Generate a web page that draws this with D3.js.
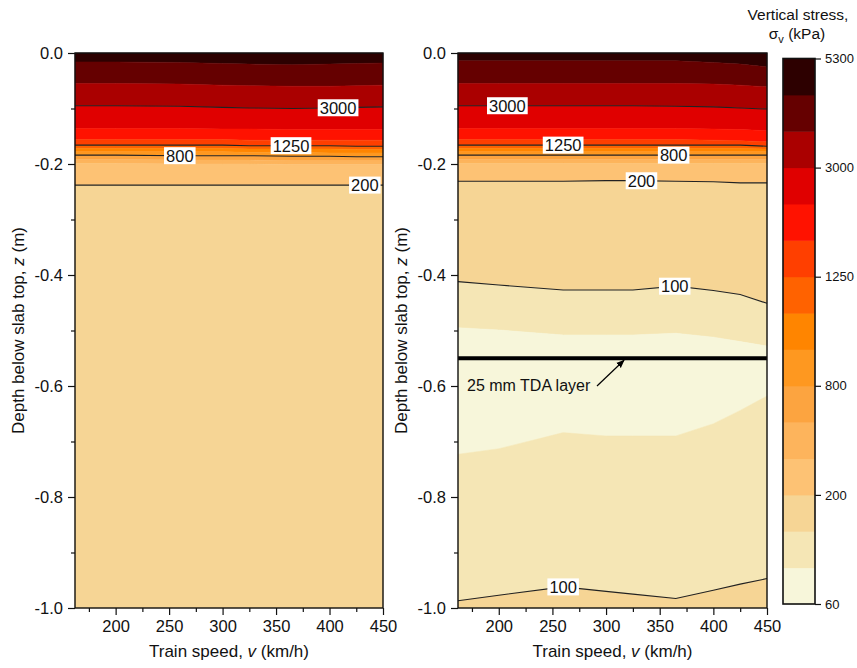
<!DOCTYPE html>
<html>
<head>
<meta charset="utf-8">
<script src="https://cdn.jsdelivr.net/npm/d3@7"></script>
<style>
  body { margin: 0; background: #fff; }
  svg text { font-family: "Liberation Sans", Arial, sans-serif; fill: #111; }
</style>
</head>
<body>
<script>
// ---- data ----
// train speeds (km/h) where the isoline depths were sampled
const speeds = [162, 200, 260, 300, 325, 365, 400, 425, 450];

// stress levels of the colour bands (kPa), low to high
const levels = [60, 80, 100, 200, 400, 600, 800, 950, 1100, 1250, 1800, 2400, 3000, 3800, 4500, 5300];
const bandColors = ["#f7f6da", "#f5e6b5", "#f6d595", "#fdc274", "#fdb45c", "#fca440", "#fe9820",
                    "#ff8500", "#ff6200", "#ff3f00", "#ff1200", "#e00000", "#aa0000", "#650000", "#2d0000"];
const barTicks = [60, 200, 800, 1250, 3000, 5300];
const drawnLevels = [3000, 1250, 800, 200, 100];

// left panel: isolines top to bottom (level, depth z in m at each speed)
const leftLevels = [4500, 3800, 3000, 2400, 1800, 1250, 1100, 950, 800, 600, 400, 200];
const leftDepths = [
  [-0.016, -0.016, -0.017, -0.019, -0.020, -0.021, -0.020, -0.019, -0.018],
  [-0.055, -0.055, -0.056, -0.058, -0.059, -0.060, -0.060, -0.059, -0.058],
  [-0.095, -0.095, -0.096, -0.098, -0.099, -0.100, -0.099, -0.098, -0.097],
  [-0.136, -0.136, -0.136, -0.137, -0.137, -0.138, -0.138, -0.138, -0.138],
  [-0.156, -0.156, -0.156, -0.156, -0.157, -0.157, -0.157, -0.157, -0.157],
  [-0.166, -0.166, -0.166, -0.166, -0.167, -0.167, -0.167, -0.168, -0.168],
  [-0.172, -0.172, -0.172, -0.172, -0.173, -0.173, -0.173, -0.174, -0.174],
  [-0.178, -0.178, -0.178, -0.178, -0.179, -0.179, -0.180, -0.180, -0.180],
  [-0.184, -0.184, -0.185, -0.185, -0.185, -0.186, -0.186, -0.187, -0.187],
  [-0.192, -0.192, -0.193, -0.193, -0.193, -0.194, -0.194, -0.194, -0.194],
  [-0.199, -0.199, -0.200, -0.200, -0.200, -0.201, -0.201, -0.201, -0.201],
  [-0.238, -0.238, -0.238, -0.238, -0.238, -0.238, -0.238, -0.238, -0.238]
];

// right panel (with TDA layer)
const rightLevels = [4500, 3800, 3000, 2400, 1800, 1250, 1100, 950, 800, 600, 400, 200, 100, 80, 80, 100];
const rightDepths = [
  [-0.014, -0.014, -0.014, -0.014, -0.014, -0.014, -0.017, -0.020, -0.025],
  [-0.055, -0.055, -0.055, -0.055, -0.055, -0.055, -0.056, -0.058, -0.061],
  [-0.095, -0.095, -0.095, -0.095, -0.095, -0.096, -0.097, -0.099, -0.101],
  [-0.136, -0.136, -0.136, -0.136, -0.136, -0.136, -0.137, -0.138, -0.140],
  [-0.156, -0.156, -0.156, -0.156, -0.156, -0.156, -0.157, -0.158, -0.160],
  [-0.166, -0.166, -0.166, -0.166, -0.166, -0.166, -0.166, -0.166, -0.168],
  [-0.172, -0.172, -0.172, -0.172, -0.172, -0.172, -0.172, -0.172, -0.173],
  [-0.178, -0.178, -0.178, -0.178, -0.178, -0.178, -0.178, -0.178, -0.178],
  [-0.184, -0.184, -0.184, -0.184, -0.184, -0.184, -0.184, -0.184, -0.184],
  [-0.192, -0.192, -0.192, -0.192, -0.192, -0.192, -0.192, -0.192, -0.192],
  [-0.199, -0.199, -0.199, -0.199, -0.199, -0.199, -0.199, -0.199, -0.199],
  [-0.231, -0.231, -0.231, -0.230, -0.230, -0.231, -0.232, -0.234, -0.234],
  [-0.412, -0.418, -0.427, -0.427, -0.427, -0.420, -0.428, -0.435, -0.451],
  [-0.495, -0.499, -0.508, -0.508, -0.508, -0.505, -0.512, -0.520, -0.528],
  [-0.723, -0.713, -0.684, -0.690, -0.690, -0.690, -0.668, -0.644, -0.618],
  [-0.987, -0.977, -0.962, -0.970, -0.975, -0.983, -0.968, -0.957, -0.947]
];
const tdaDepth = -0.55;

// contour labels: [isoline index, speed]
const leftLabels = [[2, 408], [5, 364], [8, 260], [11, 433]];
const rightLabels = [[2, 208], [5, 260], [8, 363], [11, 333], [12, 364], [15, 260]];

const xTicks = [200, 250, 300, 350, 400, 450];
const xMinor = [175, 225, 275, 325, 375, 425];
const yTicks = [0, -0.2, -0.4, -0.6, -0.8, -1.0];
const yMinor = [-0.1, -0.3, -0.5, -0.7, -0.9];

// ---- layout ----
const W = 857, H = 668;
const plotTop = 53, plotBottom = 608;
const svg = d3.select("body").append("svg").attr("width", W).attr("height", H);

const y = d3.scaleLinear().domain([0, -1]).range([plotTop, plotBottom]);
const color = d3.scaleThreshold().domain(levels.slice(1, -1)).range(bandColors);

function bandValue(lv, i) {
  // representative stress for the band lying just below isoline i-1 and above isoline i
  const n = lv.length;
  if (i == 0) return lv[0] > lv[1] ? lv[0] + 1 : lv[0] - 1;
  if (i == n) return lv[n - 1] < lv[n - 2] ? lv[n - 1] - 1 : lv[n - 1] + 1;
  const a = lv[i - 1], b = lv[i];
  if (a != b) return (a + b) / 2;
  const prev = i > 1 ? lv[i - 2] : a + 1;
  return prev > a ? a - 1 : a + 1;
}

function drawPanel(left, right, lv, depths, labels, withTda) {
  const x = d3.scaleLinear().domain([162, 450]).range([left, right]);
  const g = svg.append("g");
  const idx = d3.range(speeds.length);

  // filled bands
  for (let i = 0; i <= lv.length; i++) {
    const up = i == 0 ? null : depths[i - 1];
    const lo = i == lv.length ? null : depths[i];
    const area = d3.area()
      .x(j => x(speeds[j]))
      .y0(j => up ? y(up[j]) : y(0))
      .y1(j => lo ? y(lo[j]) : y(-1));
    g.append("path").attr("d", area(idx))
      .attr("fill", color(bandValue(lv, i)))
      .attr("stroke", color(bandValue(lv, i))).attr("stroke-width", 0.5);
  }

  // contour lines
  const line = d3.line().x(j => x(speeds[j]));
  lv.forEach((l, k) => {
    if (drawnLevels.indexOf(l) < 0) return;
    g.append("path").attr("d", line.y(j => y(depths[k][j]))(idx))
      .attr("fill", "none").attr("stroke", "#222").attr("stroke-width", 1.1);
  });

  if (withTda) {
    g.append("line").attr("x1", x(162)).attr("x2", x(450))
      .attr("y1", y(tdaDepth)).attr("y2", y(tdaDepth))
      .attr("stroke", "#000").attr("stroke-width", 4);
    svg.append("defs").append("marker").attr("id", "arrow")
      .attr("viewBox", "0 0 10 10").attr("refX", 9).attr("refY", 5)
      .attr("markerWidth", 7).attr("markerHeight", 7).attr("orient", "auto")
      .append("path").attr("d", "M0,1 L10,5 L0,9 z").attr("fill", "#000");
    g.append("line").attr("x1", 597).attr("y1", 386).attr("x2", 624).attr("y2", y(tdaDepth) + 2)
      .attr("stroke", "#000").attr("stroke-width", 1.2).attr("marker-end", "url(#arrow)");
    g.append("text").attr("x", 467).attr("y", 391).attr("font-size", 16)
      .text("25 mm TDA layer");
  }

  // contour labels
  labels.forEach(([k, v]) => {
    const zAt = d3.scaleLinear().domain(speeds).range(depths[k]);
    const cx = x(v), cyy = y(zAt(v));
    const t = g.append("text").attr("x", cx).attr("y", cyy).attr("dy", "0.36em")
      .attr("text-anchor", "middle").attr("font-size", 16.5).text(lv[k]);
    const bb = t.node().getBBox();
    g.insert("rect", function () { return t.node(); })
      .attr("x", bb.x - 2).attr("y", cyy - 8.5).attr("width", bb.width + 4).attr("height", 17)
      .attr("fill", "#fff");
  });

  // frame
  g.append("rect").attr("x", left).attr("y", plotTop).attr("width", right - left).attr("height", plotBottom - plotTop)
    .attr("fill", "none").attr("stroke", "#111").attr("stroke-width", 1.4);

  // axes
  const xa = svg.append("g").attr("transform", `translate(0,${plotBottom})`)
    .call(d3.axisBottom(x).tickValues(xTicks).tickSize(7).tickPadding(5));
  svg.append("g").attr("transform", `translate(0,${plotBottom})`)
    .call(d3.axisBottom(x).tickValues(xMinor).tickSize(4).tickFormat(""));
  const ya = svg.append("g").attr("transform", `translate(${left},0)`)
    .call(d3.axisLeft(y).tickValues(yTicks).tickSize(7).tickPadding(5).tickFormat(d => d.toFixed(1)));
  svg.append("g").attr("transform", `translate(${left},0)`)
    .call(d3.axisLeft(y).tickValues(yMinor).tickSize(4).tickFormat(""));
  svg.selectAll(".domain").remove();
  svg.selectAll(".tick line").attr("stroke", "#111").attr("stroke-width", 1.2);
  xa.selectAll("text").attr("font-size", 16.5).attr("fill", "#111");
  ya.selectAll("text").attr("font-size", 16.5).attr("fill", "#111");

  // axis titles
  const xt = svg.append("text").attr("x", (left + right) / 2).attr("y", 657)
    .attr("text-anchor", "middle").attr("font-size", 17);
  xt.append("tspan").text("Train speed, ");
  xt.append("tspan").attr("font-style", "italic").text("v");
  xt.append("tspan").text(" (km/h)");

  const yt = svg.append("text")
    .attr("transform", `translate(${left - 57},${(plotTop + plotBottom) / 2}) rotate(-90)`)
    .attr("text-anchor", "middle").attr("dy", "0.35em").attr("font-size", 17);
  yt.append("tspan").text("Depth below slab top, ");
  yt.append("tspan").attr("font-style", "italic").text("z");
  yt.append("tspan").text(" (m)");
}

drawPanel(75, 383, leftLevels, leftDepths, leftLabels, false);
drawPanel(458, 767, rightLevels, rightDepths, rightLabels, true);

// ---- colour bar ----
const cb = { x: 783, w: 32, top: 58.5, bottom: 604 };
const cScale = d3.scalePoint().domain(levels).range([cb.bottom, cb.top]);
const cbar = svg.append("g");
levels.slice(0, -1).forEach((l, i) => {
  cbar.append("rect").attr("x", cb.x).attr("y", cScale(levels[i + 1]))
    .attr("width", cb.w).attr("height", cScale(l) - cScale(levels[i + 1]) + 0.5)
    .attr("fill", bandColors[i]);
});
cbar.append("rect").attr("x", cb.x).attr("y", cb.top).attr("width", cb.w).attr("height", cb.bottom - cb.top)
  .attr("fill", "none").attr("stroke", "#111").attr("stroke-width", 1.6);
const ca = svg.append("g").attr("transform", `translate(${cb.x + cb.w},0)`)
  .call(d3.axisRight(cScale).tickValues(barTicks).tickSize(6).tickPadding(4));
ca.select(".domain").remove();
ca.selectAll(".tick line").attr("stroke", "#111").attr("stroke-width", 1.2);
ca.selectAll("text").attr("font-size", 13).attr("fill", "#111");

svg.append("text").attr("x", 798).attr("y", 19.5).attr("text-anchor", "middle")
  .attr("font-size", 15.5).text("Vertical stress,");
const st = svg.append("text").attr("x", 797).attr("y", 39).attr("text-anchor", "middle").attr("font-size", 15.5);
st.append("tspan").text("σ");
st.append("tspan").attr("font-size", 11).attr("dy", 4).text("v");
st.append("tspan").attr("dy", -4).text(" (kPa)");
</script>
</body>
</html>
